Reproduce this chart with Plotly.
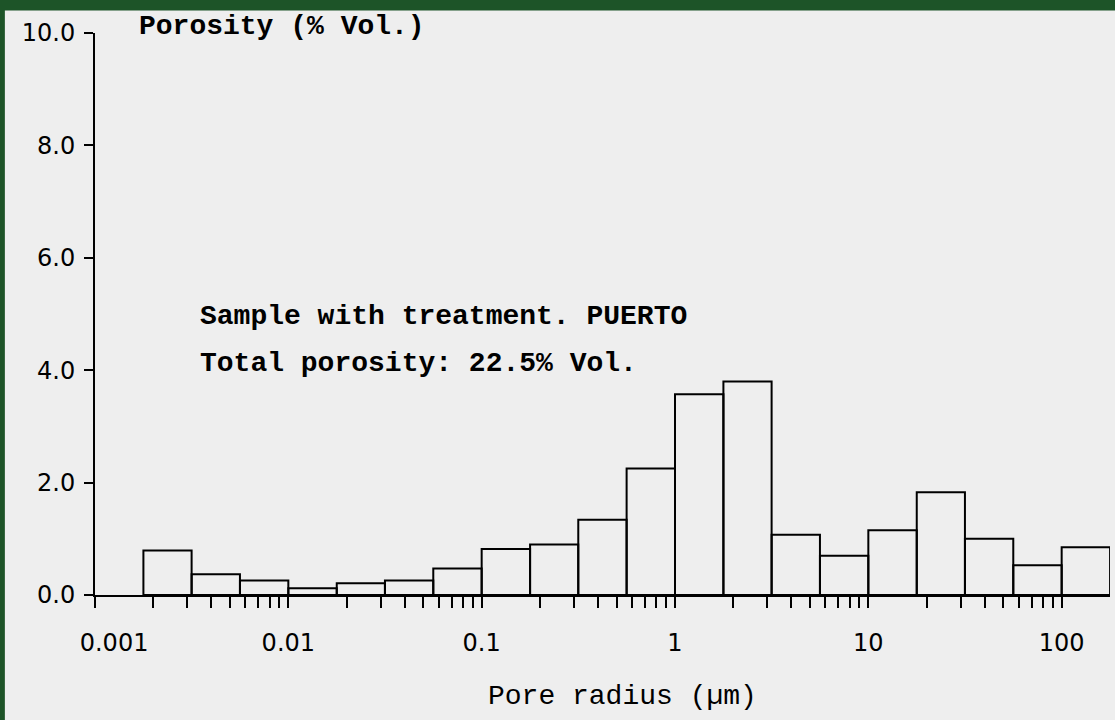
import plotly.graph_objects as go

# ---- data ----
# pore-radius bin edges (µm), quarter-decade bins
bin_edges = [0.00178, 0.00316, 0.00562, 0.01, 0.0178, 0.0316, 0.0562, 0.1,
             0.178, 0.316, 0.562, 1.0, 1.78, 3.16, 5.62, 10.0, 17.8, 31.6,
             56.2, 100.0, 178.0]
# porosity per bin (% vol.)
porosity = [0.79, 0.37, 0.26, 0.12, 0.21, 0.26, 0.47, 0.82, 0.90, 1.34,
            2.25, 3.57, 3.80, 1.07, 0.70, 1.15, 1.83, 1.00, 0.53, 0.85]

x_tick_vals = [0.001, 0.01, 0.1, 1, 10, 100]
x_tick_text = ["0.001", "0.01", "0.1", "1", "10", "100"]
y_tick_vals = [0, 2, 4, 6, 8, 10]
y_tick_text = ["0.0", "2.0", "4.0", "6.0", "8.0", "10.0"]
minor_vals = [m * d for d in [0.001, 0.01, 0.1, 1, 10, 100] for m in range(2, 10)]

title_y = "Porosity (% Vol.)"
title_x = "Pore radius (µm)"
note1 = "Sample with treatment. PUERTO"
note2 = "Total porosity: 22.5% Vol."

# build closed rectangles for each bar
xs, ys = [], []
for i, h in enumerate(porosity):
    l, r = bin_edges[i], bin_edges[i + 1]
    xs += [l, l, r, r, l, None]
    ys += [0, h, h, 0, 0, None]

# the first x label sits right of its tick in the original
x_labels = ["\u00a0" * 5 + x_tick_text[0]] + x_tick_text[1:]

MONO = "Courier New, Liberation Mono, monospace"
SANS = "DejaVu Sans, Arial, sans-serif"
BG = "#eeeeee"
GREEN = "#1d5428"

fig = go.Figure()
fig.add_trace(go.Scatter(x=xs, y=ys, mode="lines",
                         line=dict(color="black", width=2),
                         hoverinfo="skip", showlegend=False))

fig.update_layout(
    width=1115, height=720,
    margin=dict(l=95, r=5, t=33, b=125),
    paper_bgcolor=BG, plot_bgcolor=BG,
    showlegend=False,
    xaxis=dict(type="log", range=[-3, 2.25], automargin=False,
               tickmode="array", tickvals=x_tick_vals, ticktext=x_labels,
               ticks="outside", ticklen=11, tickwidth=2, tickcolor="black",
               showline=True, linecolor="black", linewidth=2,
               showgrid=False, zeroline=False,
               tickfont=dict(family=SANS, size=24, color="black"),
               ticklabelstandoff=14,
               minor=dict(tickmode="array", tickvals=minor_vals,
                          ticks="outside", ticklen=11, tickwidth=2,
                          tickcolor="black", showgrid=False)),
    yaxis=dict(range=[0, 10], automargin=False, tickmode="array",
               tickvals=y_tick_vals, ticktext=y_tick_text,
               ticks="outside", ticklen=9, tickwidth=1.5, tickcolor="black",
               showline=True, linecolor="black", linewidth=2,
               showgrid=False, zeroline=False,
               tickfont=dict(family=SANS, size=24, color="black"),
               ticklabelstandoff=4),
    annotations=[
        dict(text=f"<b>{title_y}</b>", xref="paper", yref="paper",
             x=0.041, y=1.012, xanchor="left", yanchor="middle",
             showarrow=False, font=dict(family=MONO, size=28, color="black")),
        dict(text=title_x, xref="paper", yref="paper",
             x=0.52, y=-0.18, xanchor="center", yanchor="middle",
             showarrow=False, font=dict(family=MONO, size=28, color="black")),
        dict(text=f"<b>{note1}</b>", xref="paper", yref="paper",
             x=0.101, y=0.495, xanchor="left", yanchor="middle",
             showarrow=False, font=dict(family=MONO, size=28, color="black")),
        dict(text=f"<b>{note2}</b>", xref="paper", yref="paper",
             x=0.101, y=0.412, xanchor="left", yanchor="middle",
             showarrow=False, font=dict(family=MONO, size=28, color="black")),
    ],
    shapes=[
        dict(type="rect", xref="paper", yref="paper", layer="above",
             x0=-0.1, x1=-0.0888, y0=-0.25, y1=1.1,
             fillcolor=GREEN, line=dict(width=0)),
        dict(type="rect", xref="paper", yref="paper", layer="above",
             x0=-0.1, x1=1.01, y0=1.04, y1=1.1,
             fillcolor=GREEN, line=dict(width=0)),
    ],
)

fig.write_html(
    "out.html",
    config={"displayModeBar": False},
    post_script="document.body.style.margin='0';"
                "document.body.style.overflow='hidden';"
                "document.body.style.background='#eeeeee';",
)
